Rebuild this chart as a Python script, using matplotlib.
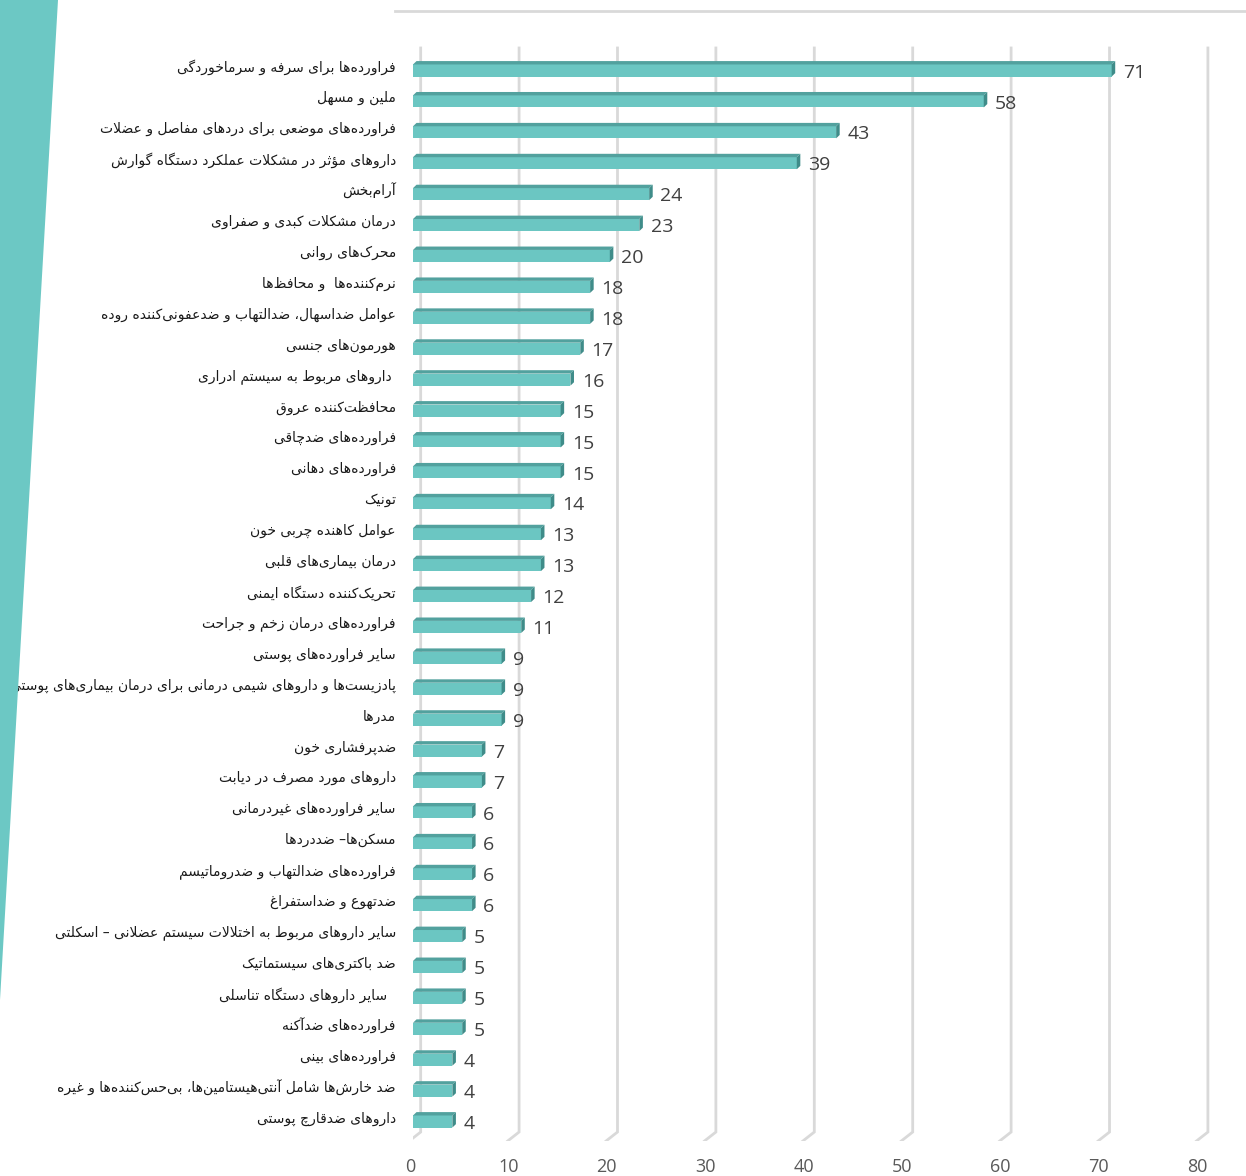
import matplotlib
matplotlib.use("Agg")
import matplotlib.pyplot as plt
from matplotlib.patches import Polygon
from matplotlib.lines import Line2D
from matplotlib.transforms import ScaledTranslation

# data (top to bottom)
labels = [
    "فراورده‌ها برای سرفه و سرماخوردگی",
    "ملین و مسهل",
    "فراورده‌های موضعی برای دردهای مفاصل و عضلات",
    "داروهای مؤثر در مشکلات عملکرد دستگاه گوارش",
    "آرام‌بخش",
    "درمان مشکلات کبدی و صفراوی",
    "محرک‌های روانی",
    "نرم‌کننده‌ها  و محافظ‌ها",
    "عوامل ضداسهال، ضدالتهاب و ضدعفونی‌کننده روده",
    "هورمون‌های جنسی",
    " داروهای مربوط به سیستم ادراری",
    "محافظت‌کننده عروق",
    "فراورده‌های ضدچاقی",
    "فراورده‌های دهانی",
    "تونیک",
    "عوامل کاهنده چربی خون",
    "درمان بیماری‌های قلبی",
    "تحریک‌کننده دستگاه ایمنی",
    "فراورده‌های درمان زخم و جراحت",
    "سایر فراورده‌های پوستی",
    "پادزیست‌ها و داروهای شیمی درمانی برای درمان بیماری‌های پوستی",
    "مدرها",
    "ضدپرفشاری خون",
    "داروهای مورد مصرف در دیابت",
    "سایر فراورده‌های غیردرمانی",
    "مسکن‌ها– ضددردها",
    "فراورده‌های ضدالتهاب و ضدروماتیسم",
    "ضدتهوع و ضداستفراغ",
    "سایر داروهای مربوط به اختلالات سیستم عضلانی – اسکلتی",
    "ضد باکتری‌های سیستماتیک",
    "  سایر داروهای دستگاه تناسلی",
    "فراورده‌های ضدآکنه",
    "فراورده‌های بینی",
    "ضد خارش‌ها شامل آنتی‌هیستامین‌ها، بی‌حس‌کننده‌ها و غیره",
    "داروهای ضدقارچ پوستی",
]
values = [71, 58, 43, 39, 24, 23, 20, 18, 18, 17, 16, 15, 15, 15, 14, 13, 13,
          12, 11, 9, 9, 9, 7, 7, 6, 6, 6, 6, 5, 5, 5, 5, 4, 4, 4]
xticks = [0, 10, 20, 30, 40, 50, 60, 70, 80]

# --- minimal arabic/persian shaping (matplotlib has no bidi/shaping) ---
# letter: (isolated, final, initial, medial); 2-tuple = right-joining only
FORMS = {
    "ا": (0xFE8D, 0xFE8E), "آ": (0xFE81, 0xFE82), "د": (0xFEA9, 0xFEAA),
    "ذ": (0xFEAB, 0xFEAC), "ر": (0xFEAD, 0xFEAE), "ز": (0xFEAF, 0xFEB0),
    "ژ": (0xFB8A, 0xFB8B), "و": (0xFEED, 0xFEEE), "ؤ": (0xFE85, 0xFE86),
    "ب": (0xFE8F, 0xFE90, 0xFE91, 0xFE92), "پ": (0xFB56, 0xFB57, 0xFB58, 0xFB59),
    "ت": (0xFE95, 0xFE96, 0xFE97, 0xFE98), "ث": (0xFE99, 0xFE9A, 0xFE9B, 0xFE9C),
    "ج": (0xFE9D, 0xFE9E, 0xFE9F, 0xFEA0), "چ": (0xFB7A, 0xFB7B, 0xFB7C, 0xFB7D),
    "ح": (0xFEA1, 0xFEA2, 0xFEA3, 0xFEA4), "خ": (0xFEA5, 0xFEA6, 0xFEA7, 0xFEA8),
    "س": (0xFEB1, 0xFEB2, 0xFEB3, 0xFEB4), "ش": (0xFEB5, 0xFEB6, 0xFEB7, 0xFEB8),
    "ص": (0xFEB9, 0xFEBA, 0xFEBB, 0xFEBC), "ض": (0xFEBD, 0xFEBE, 0xFEBF, 0xFEC0),
    "ط": (0xFEC1, 0xFEC2, 0xFEC3, 0xFEC4), "ظ": (0xFEC5, 0xFEC6, 0xFEC7, 0xFEC8),
    "ع": (0xFEC9, 0xFECA, 0xFECB, 0xFECC), "غ": (0xFECD, 0xFECE, 0xFECF, 0xFED0),
    "ف": (0xFED1, 0xFED2, 0xFED3, 0xFED4), "ق": (0xFED5, 0xFED6, 0xFED7, 0xFED8),
    "ک": (0xFB8E, 0xFB8F, 0xFB90, 0xFB91), "گ": (0xFB92, 0xFB93, 0xFB94, 0xFB95),
    "ل": (0xFEDD, 0xFEDE, 0xFEDF, 0xFEE0), "م": (0xFEE1, 0xFEE2, 0xFEE3, 0xFEE4),
    "ن": (0xFEE5, 0xFEE6, 0xFEE7, 0xFEE8), "ه": (0xFEE9, 0xFEEA, 0xFEEB, 0xFEEC),
    "ی": (0xFBFC, 0xFBFD, 0xFBFE, 0xFBFF), "ئ": (0xFE89, 0xFE8A, 0xFE8B, 0xFE8C),
}
LAM_ALEF = {"ا": (0xFEFB, 0xFEFC), "آ": (0xFEF5, 0xFEF6)}


def shape(s):
    # merge lam + alef into ligature tokens first
    toks = []
    i = 0
    while i < len(s):
        if s[i] == "ل" and i + 1 < len(s) and s[i + 1] in LAM_ALEF:
            toks.append("LA" + s[i + 1])
            i += 2
        else:
            toks.append(s[i])
            i += 1

    def dual(t):
        return t in FORMS and len(FORMS[t]) == 4

    def letter(t):
        return t in FORMS or t.startswith("LA")

    out = []
    for k, t in enumerate(toks):
        prev = toks[k - 1] if k > 0 else None
        nxt = toks[k + 1] if k + 1 < len(toks) else None
        jp = prev is not None and dual(prev)
        if t.startswith("LA"):
            f = LAM_ALEF[t[2]]
            out.append(chr(f[1] if jp else f[0]))
            continue
        if t not in FORMS:
            if t != "\u200c":
                out.append(t)
            continue
        f = FORMS[t]
        jn = dual(t) and nxt is not None and letter(nxt)
        if jp and jn:
            out.append(chr(f[3]))
        elif jp:
            out.append(chr(f[1]))
        elif jn:
            out.append(chr(f[2]))
        else:
            out.append(chr(f[0]))
    return "".join(out)[::-1]


front = "#6bc6c2"
top_c = "#52a19e"
side_c = "#3f8c89"
grid_c = "#d9d9d9"

fig = plt.figure(figsize=(12.46, 11.76), dpi=100)

# teal decoration on the left edge
fig.patches.append(Polygon([(0, 1176), (58, 1176), (0, 176)], closed=True,
                           transform=None, facecolor="#6cc8c4", edgecolor="none"))
fig.lines.append(Line2D([395 / 1246, 1.0], [1 - 11 / 1176, 1 - 11 / 1176],
                        transform=fig.transFigure, color=grid_c, lw=2))

ax = fig.add_axes([413 / 1246, 35 / 1176, 826.6 / 1246, 1131 / 1176])
ax.set_xlim(0, 84)
ax.set_ylim(34.63, -1.957)
for s in ax.spines.values():
    s.set_visible(False)
ax.set_yticks([])

# back-wall gridlines with floor stub
gx_back, gy_top, gy_back, gx_front, gy_front = 0.78, -0.728, 34.34, -0.38, 34.63
for t in xticks:
    ax.plot([t + gx_back, t + gx_back, t + gx_front], [gy_top, gy_back, gy_front],
            color=grid_c, lw=2, solid_joinstyle="miter", zorder=1)

h = 0.39
dx, dy = 0.36, 0.11
for i, v in enumerate(values):
    y0 = i - h / 2
    y1 = i + h / 2
    ax.barh(i, v, height=h, left=0, color=front, edgecolor="none", zorder=3)
    ax.add_patch(Polygon([(0, y0), (v, y0), (v + dx, y0 - dy), (dx, y0 - dy)],
                         closed=True, facecolor=top_c, edgecolor="none", zorder=3))
    ax.add_patch(Polygon([(v, y0), (v, y1), (v + dx, y1 - dy), (v + dx, y0 - dy)],
                         closed=True, facecolor=side_c, edgecolor="none", zorder=3))
    ax.text(v + 1.15, i + 0.07, str(v), ha="left", va="center",
            fontsize=14, family="Open Sans", color="#404040")
    ax.text(-1.75, i - 0.1, shape(labels[i]), ha="right", va="center",
            fontsize=10, family="DejaVu Sans", color="#1a1a1a")

ax.set_xticks(xticks)
ax.set_xticklabels([str(t) for t in xticks], family="Open Sans",
                   fontsize=13, color="#595959")
ax.tick_params(axis="x", length=0, pad=12)
for lab in ax.get_xticklabels():
    lab.set_transform(lab.get_transform() + ScaledTranslation(-3 / 100, 0, fig.dpi_scale_trans))

fig.savefig("out.png", dpi=100, facecolor="white")
